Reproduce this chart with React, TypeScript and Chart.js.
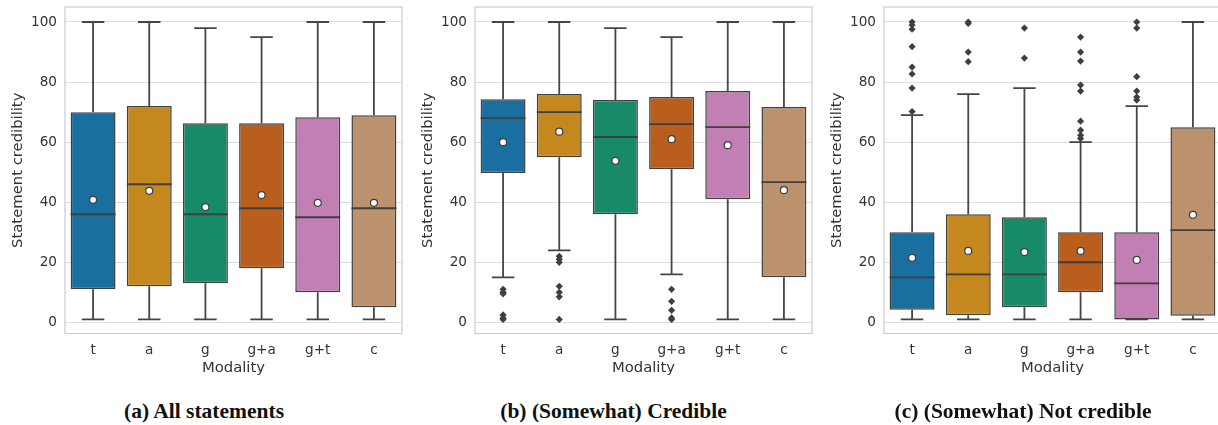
import React, { useEffect, useRef } from "react";
import { Chart, registerables } from "chart.js";

Chart.register(...registerables);

const categories = ["t", "a", "g", "g+a", "g+t", "c"];
const yTickValues = [0, 20, 40, 60, 80, 100];
const boxColors = ["#1a6fa1", "#c4881f", "#178b69", "#b95e1c", "#c27fb4", "#bc916d"];

// (a) All statements
const aLow = [1, 1, 1, 1, 1, 1];
const aQ1 = [11, 12, 13, 18, 10, 5];
const aMedian = [36, 46, 36, 38, 35, 38];
const aQ3 = [70, 72, 66.3, 66.3, 68.3, 69];
const aHigh = [100, 100, 98, 95, 100, 100];
const aMean = [40.8, 43.8, 38.4, 42.4, 39.8, 39.8];
const aOutliers: number[][] = [[], [], [], [], [], []];

// (b) (Somewhat) Credible
const bLow = [15, 24, 1, 16, 1, 1];
const bQ1 = [49.7, 55, 36, 51, 41, 15];
const bMedian = [68, 70, 61.7, 66, 65, 46.7];
const bQ3 = [74.3, 76, 74, 75, 77, 71.7];
const bHigh = [100, 100, 98, 95, 100, 100];
const bMean = [60, 63.5, 53.8, 61, 59, 44];
const bOutliers: number[][] = [
  [11, 10, 9.5, 2.5, 1.5, 1],
  [22, 21, 20, 12, 10, 8.5, 1],
  [],
  [11, 7, 4, 1.5, 1],
  [],
  [],
];

// (c) (Somewhat) Not credible
const cLow = [1, 1, 1, 1, 1, 1];
const cQ1 = [4.2, 2.4, 5, 10, 1, 2.2];
const cMedian = [15, 16, 16, 20, 13, 30.7];
const cQ3 = [30, 36, 35, 30, 30, 65];
const cHigh = [69, 76, 78, 60, 72, 100];
const cMean = [21.5, 23.8, 23.4, 23.8, 20.8, 35.8];
const cOutliers: number[][] = [
  [100, 99, 97.6, 91.8, 85, 82.7, 78, 70.2],
  [100, 99.5, 90, 86.8],
  [98, 88],
  [95, 90, 87, 79, 77, 67, 64, 62.3, 61.2],
  [100, 98, 81.8, 77, 75, 74],
  [],
];

type Panel = {
  caption: string;
  low: number[];
  q1: number[];
  median: number[];
  q3: number[];
  high: number[];
  mean: number[];
  outliers: number[][];
};

const panels: Panel[] = [
  { caption: "(a) All statements", low: aLow, q1: aQ1, median: aMedian, q3: aQ3, high: aHigh, mean: aMean, outliers: aOutliers },
  { caption: "(b) (Somewhat) Credible", low: bLow, q1: bQ1, median: bMedian, q3: bQ3, high: bHigh, mean: bMean, outliers: bOutliers },
  { caption: "(c) (Somewhat) Not credible", low: cLow, q1: cQ1, median: cMedian, q3: cQ3, high: cHigh, mean: cMean, outliers: cOutliers },
];

const LINE = "#3f3f3f";
const TEXT = "#333333";
const FONT = "'DejaVu Sans', sans-serif";
const CANVAS_W = 410;
const CANVAS_H = 390;

function BoxPanel({ panel, left }: { panel: Panel; left: number }) {
  const ref = useRef<HTMLCanvasElement | null>(null);

  useEffect(() => {
    if (!ref.current) return;
    const p = panel;
    const boxPlugin = {
      id: "boxExtras",
      beforeDatasetsDraw(chart: any) {
        const { ctx, chartArea, scales } = chart;
        const x = scales.x;
        const y = scales.y;
        ctx.save();
        ctx.strokeStyle = "#cccccc";
        ctx.lineWidth = 1.2;
        ctx.strokeRect(chartArea.left, chartArea.top, chartArea.right - chartArea.left, chartArea.bottom - chartArea.top);
        const meta = chart.getDatasetMeta(0);
        ctx.strokeStyle = "#454545";
        ctx.lineWidth = 1.8;
        ctx.lineCap = "butt";
        categories.forEach((_, i) => {
          const bar = meta.data[i];
          const cx = x.getPixelForValue(i);
          const half = bar.width / 4;
          const yl = y.getPixelForValue(p.low[i]);
          const yq1 = y.getPixelForValue(p.q1[i]);
          const yq3 = y.getPixelForValue(p.q3[i]);
          const yh = y.getPixelForValue(p.high[i]);
          ctx.beginPath();
          ctx.moveTo(cx, yq1);
          ctx.lineTo(cx, yl);
          ctx.moveTo(cx - half, yl);
          ctx.lineTo(cx + half, yl);
          ctx.moveTo(cx, yq3);
          ctx.lineTo(cx, yh);
          ctx.moveTo(cx - half, yh);
          ctx.lineTo(cx + half, yh);
          ctx.stroke();
        });
        ctx.restore();
      },
      afterDatasetDraw(chart: any, args: any) {
        if (args.index !== 0) return;
        const { ctx, scales } = chart;
        const y = scales.y;
        const meta = chart.getDatasetMeta(0);
        ctx.save();
        ctx.strokeStyle = LINE;
        ctx.lineWidth = 1.9;
        categories.forEach((_, i) => {
          const bar = meta.data[i];
          const ym = y.getPixelForValue(p.median[i]);
          ctx.beginPath();
          ctx.moveTo(bar.x - bar.width / 2, ym);
          ctx.lineTo(bar.x + bar.width / 2, ym);
          ctx.stroke();
        });
        ctx.restore();
      },
    };

    const outlierPoints: { x: string; y: number }[] = [];
    p.outliers.forEach((list, i) => list.forEach((v) => outlierPoints.push({ x: categories[i], y: v })));

    const chart = new Chart(ref.current, {
      type: "bar",
      data: {
        labels: categories,
        datasets: [
          {
            type: "bar",
            data: categories.map((_, i) => [p.q1[i], p.q3[i]]),
            backgroundColor: boxColors,
            borderColor: LINE,
            borderWidth: 1.5,
            borderSkipped: false,
            categoryPercentage: 1,
            barPercentage: 0.8,
            order: 2,
          } as any,
          {
            type: "line",
            data: p.mean,
            showLine: false,
            pointStyle: "circle",
            pointRadius: 3.5,
            pointBackgroundColor: "#ffffff",
            pointBorderColor: LINE,
            pointBorderWidth: 1.2,
            order: 0,
          } as any,
          {
            type: "line",
            data: outlierPoints,
            showLine: false,
            pointStyle: "rectRot",
            pointRadius: 3.6,
            pointBackgroundColor: LINE,
            pointBorderColor: LINE,
            pointBorderWidth: 0,
            order: 1,
          } as any,
        ],
      },
      options: {
        responsive: false,
        animation: false,
        devicePixelRatio: window.devicePixelRatio || 1,
        layout: { padding: { left: 0, right: 8, top: 7, bottom: 0 } },
        plugins: { legend: { display: false }, tooltip: { enabled: false } },
        scales: {
          x: {
            type: "category",
            offset: true,
            grid: { display: false, drawTicks: false },
            border: { display: false },
            ticks: { color: TEXT, font: { family: FONT, size: 13.6 }, padding: 9 },
            title: { display: true, text: "Modality", color: TEXT, font: { family: FONT, size: 14.8 }, padding: { top: 0, bottom: 13 } },
            afterFit(scale: any) {
              scale.height = CANVAS_H - 333.5;
              scale.paddingLeft = 0;
              scale.paddingRight = 0;
            },
          },
          y: {
            type: "linear",
            min: -3.7,
            max: 105,
            grid: { color: "#dddddd", lineWidth: 1.1, drawTicks: false },
            border: { display: false },
            ticks: { color: TEXT, font: { family: FONT, size: 13.6 }, padding: 8 },
            title: { display: true, text: "Statement credibility", color: TEXT, font: { family: FONT, size: 14.8 }, padding: { top: 9.5, bottom: 0 } },
            afterBuildTicks(scale: any) {
              scale.ticks = yTickValues.map((v) => ({ value: v }));
            },
            afterFit(scale: any) {
              scale.width = 65;
              scale.paddingTop = 0;
              scale.paddingBottom = 0;
            },
          },
        },
      } as any,
      plugins: [boxPlugin as any],
    });
    return () => chart.destroy();
  }, [panel]);

  return (
    <div style={{ position: "absolute", left, top: 0, width: CANVAS_W, height: 425 }}>
      <canvas ref={ref} width={CANVAS_W} height={CANVAS_H} style={{ width: CANVAS_W, height: CANVAS_H, display: "block" }} />
      <div
        style={{
          position: "absolute",
          left: 204 - 200,
          top: 397,
          width: 400,
          textAlign: "center",
          fontFamily: "'Liberation Serif', serif",
          fontWeight: "bold",
          fontSize: 21.5,
          lineHeight: "28px",
          color: "#111",
          whiteSpace: "nowrap",
        }}
      >
        {panel.caption}
      </div>
    </div>
  );
}

export default function App() {
  const lefts = [0, 409.5, 819];
  return (
    <div style={{ position: "absolute", left: 0, top: 0, width: 1218, height: 425, overflow: "hidden", background: "#fff" }}>
      {panels.map((p, i) => (
        <BoxPanel key={i} panel={p} left={lefts[i]} />
      ))}
    </div>
  );
}
